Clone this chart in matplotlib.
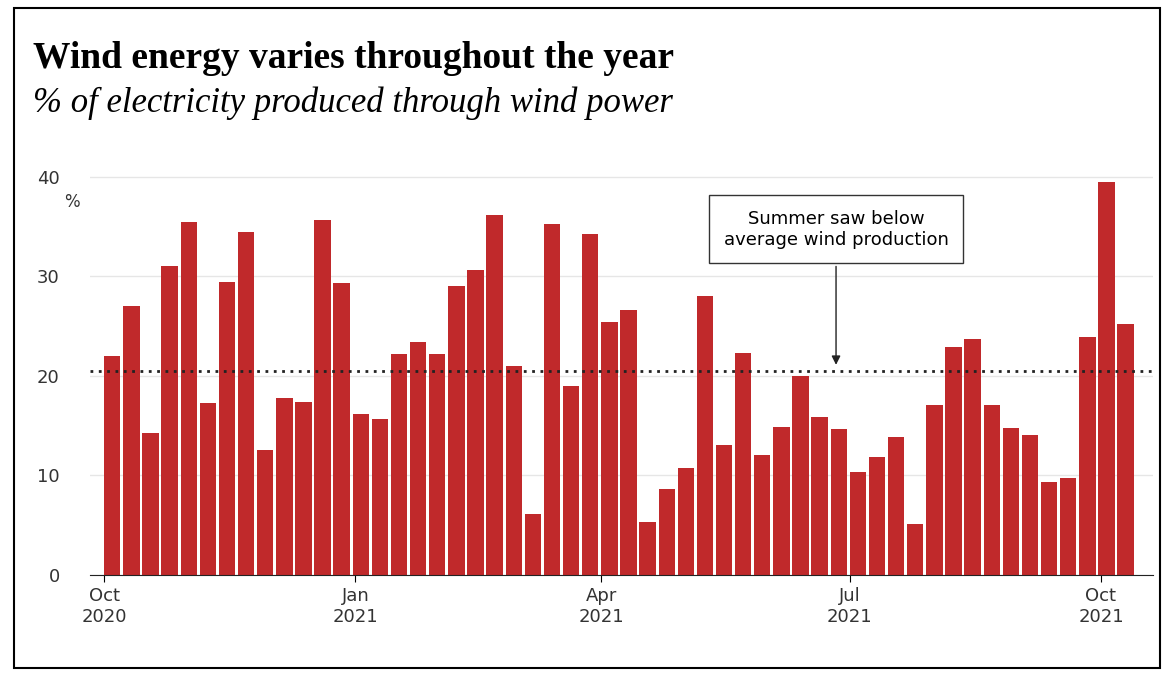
import numpy as np
import pandas as pd
import matplotlib.pyplot as plt
import matplotlib.dates as mdates

# weekly share of electricity from wind (%)
weeks = pd.date_range("2020-10-04", periods=54, freq="7D")
share = [22, 27, 14.2, 31, 35.4, 17.2, 29.4, 34.4, 12.5, 17.7, 17.3, 35.6, 29.3, 16.1,
         15.6, 22.2, 23.4, 22.2, 29, 30.6, 36.1, 21, 6.1, 35.2, 19, 34.2, 25.4, 26.6,
         5.3, 8.6, 10.7, 28, 13, 22.3, 12, 14.8, 20, 15.8, 14.6, 10.3, 11.8, 13.8,
         5.1, 17, 22.9, 23.7, 17, 14.7, 14, 9.3, 9.7, 23.9, 39.5, 25.2]
average = 20.5
tick_dates = pd.to_datetime(["2020-10-01", "2021-01-01", "2021-04-01", "2021-07-01", "2021-10-01"])
tick_labels = ["Oct\n2020", "Jan\n2021", "Apr\n2021", "Jul\n2021", "Oct\n2021"]

fig = plt.figure(figsize=(11.74, 6.8), dpi=100)
fig.patches.append(plt.Rectangle((0.012, 0.018), 0.976, 0.97, transform=fig.transFigure,
                                 fill=False, edgecolor="black", linewidth=1.5))
ax = fig.add_axes([0.077, 0.155, 0.905, 0.6])

ax.bar(weeks, share, width=6, color="#c0292b", align="center")
ax.axhline(average, color="#222222", linestyle=(0, (1, 2)), linewidth=2, zorder=3)

ax.set_ylim(0, 41)
ax.set_xlim(pd.Timestamp("2020-09-26"), pd.Timestamp("2021-10-20"))
ax.set_yticks([0, 10, 20, 30, 40])
ax.grid(axis="y", color="#e6e6e6", linewidth=1)
ax.set_axisbelow(True)
for s in ["top", "right", "left"]:
    ax.spines[s].set_visible(False)
ax.spines["bottom"].set_color("#222222")
ax.set_xticks(tick_dates)
ax.set_xticklabels(tick_labels, fontsize=13, color="#333333")
ax.tick_params(axis="y", length=0, labelsize=13, labelcolor="#333333", pad=22)
ax.tick_params(axis="x", length=5, pad=4)
ax.text(-0.017, 0.9, "%", transform=ax.transAxes, fontsize=12, color="#333333", ha="center")

ax.annotate("Summer saw below\naverage wind production", xy=(pd.Timestamp("2021-06-26"), average + 0.3),
            xytext=(pd.Timestamp("2021-06-26"), 34.7), ha="center", va="center", fontsize=13,
            bbox=dict(boxstyle="square,pad=0.8", fc="white", ec="#333333"),
            arrowprops=dict(arrowstyle="-|>", color="#222222", lw=1))

fig.text(0.028, 0.9, "Wind energy varies throughout the year", fontsize=27,
         fontweight="bold", family="Liberation Serif")
fig.text(0.028, 0.835, "% of electricity produced through wind power", fontsize=25,
         style="italic", family="Liberation Serif")

fig.savefig("out.png", dpi=100)
